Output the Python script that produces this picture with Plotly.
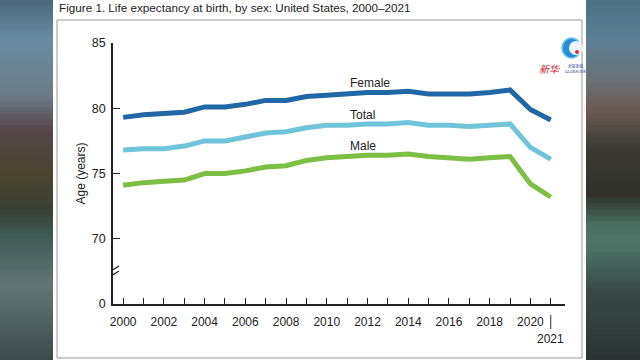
import plotly.graph_objects as go

years = list(range(2000, 2022))
female = [79.3, 79.5, 79.6, 79.7, 80.1, 80.1, 80.3, 80.6, 80.6, 80.9, 81.0,
          81.1, 81.2, 81.2, 81.3, 81.1, 81.1, 81.1, 81.2, 81.4, 79.9, 79.1]
total = [76.8, 76.9, 76.9, 77.1, 77.5, 77.5, 77.8, 78.1, 78.2, 78.5, 78.7,
         78.7, 78.8, 78.8, 78.9, 78.7, 78.7, 78.6, 78.7, 78.8, 77.0, 76.1]
male = [74.1, 74.3, 74.4, 74.5, 75.0, 75.0, 75.2, 75.5, 75.6, 76.0, 76.2,
        76.3, 76.4, 76.4, 76.5, 76.3, 76.2, 76.1, 76.2, 76.3, 74.2, 73.2]
series_names = ["Female", "Total", "Male"]
series_colors = ["#2067a6", "#6fc4da", "#7cbf44"]
y_tickvals = [65, 70, 75, 80, 85]
y_ticktext = ["0", "70", "75", "80", "85"]
x_ticktext = [str(y) if y % 2 == 0 else "" for y in years]

W, H = 640, 360
ML, MR, MT, MB = 113, 75, 43, 56
PW, PH = W - ML - MR, H - MT - MB
X0, X1 = 1999.5, 2021.7
Y0, Y1 = 65, 85

def px(xp):
    return (xp - ML) / PW

def py(yp):
    return (H - MB - yp) / PH

def xd(xp):
    return X0 + (xp - ML) / PW * (X1 - X0)

def yd(yp):
    return Y0 + (H - MB - yp) / PH * (Y1 - Y0)

fig = go.Figure()
for name, vals, col in zip(series_names, [female, total, male], series_colors):
    fig.add_trace(go.Scatter(x=years, y=vals, mode="lines", name=name,
                             line=dict(color=col, width=5), showlegend=False))

shapes = []

def hexrgb(h):
    h = h.lstrip("#")
    return [int(h[i:i + 2], 16) for i in (0, 2, 4)]

def grad(stops, y):
    for i in range(len(stops) - 1):
        y0, c0 = stops[i]
        y1, c1 = stops[i + 1]
        if y0 <= y <= y1:
            t = (y - y0) / (y1 - y0) if y1 > y0 else 0
            a, b = hexrgb(c0), hexrgb(c1)
            return "rgb(%d,%d,%d)" % tuple(round(a[k] + (b[k] - a[k]) * t) for k in range(3))
    return stops[-1][1]

left_stops = [(0, "#4c667a"), (40, "#6a8aa0"), (95, "#6d7c88"), (130, "#56474b"),
              (175, "#4b4530"), (210, "#3b3f33"), (235, "#3f5a55"), (285, "#627474"),
              (330, "#4d5d5e"), (360, "#3c4a4c")]
right_stops = [(0, "#4f6f82"), (40, "#5c7f93"), (80, "#6a7278"), (110, "#6b5a55"),
               (150, "#3a3a33"), (195, "#30322b"), (225, "#4a6e62"), (245, "#507568"),
               (290, "#3a4a48"), (360, "#2a3332")]
step = 6
for yy in range(0, H, step):
    for (xa, xb, stops) in [(0, 53, left_stops), (586, 640, right_stops)]:
        c = grad(stops, yy + step / 2)
        shapes.append(dict(type="rect", xref="paper", yref="paper",
                           x0=px(xa), x1=px(xb), y0=py(yy + step + 0.5), y1=py(yy - 0.5),
                           fillcolor=c, line=dict(width=0), layer="below"))
# inner border
shapes.append(dict(type="rect", xref="paper", yref="paper",
                   x0=px(57), x1=px(582), y0=py(358), y1=py(20),
                   fillcolor="rgba(0,0,0,0)", line=dict(color="#9a9a9a", width=1), layer="below"))
# axis break slashes
for off in (0, 5):
    shapes.append(dict(type="line", xref="x", yref="y",
                       x0=xd(106), y0=yd(274 + off), x1=xd(119), y1=yd(266 + off),
                       line=dict(color="#222", width=1.2)))
# 2021 separator
shapes.append(dict(type="line", xref="x", yref="paper",
                   x0=2021, x1=2021, y0=py(315), y1=py(329),
                   line=dict(color="#333", width=1)))
# logo: C-shaped globe
shapes.append(dict(type="circle", xref="paper", yref="paper",
                   x0=px(562), x1=px(581), y0=py(58), y1=py(38),
                   fillcolor="#2a8fd0", line=dict(color="#6fc0ee", width=1.5)))
shapes.append(dict(type="circle", xref="paper", yref="paper",
                   x0=px(569), x1=px(583), y0=py(55), y1=py(41),
                   fillcolor="#eef7fc", line=dict(width=0)))
shapes.append(dict(type="circle", xref="paper", yref="paper",
                   x0=px(575), x1=px(579), y0=py(54), y1=py(50),
                   fillcolor="#d8333a", line=dict(width=0)))

annotations = [
    dict(text="Figure 1. Life expectancy at birth, by sex: United States, 2000\u20132021",
         xref="paper", yref="paper", x=px(57), y=py(8), xanchor="left", yanchor="middle",
         showarrow=False, font=dict(size=11.7, color="#222")),
    dict(text="2021", xref="x", yref="paper", x=2021, y=py(339), xanchor="center",
         yanchor="middle", showarrow=False, font=dict(size=12, color="#222")),
    dict(text="<i>新华</i>", xref="paper", yref="paper", x=px(562), y=py(68), xanchor="right",
         yanchor="middle", showarrow=False,
         font=dict(size=10, color="#c8242b", family="Noto Sans CJK SC")),
    dict(text="全球连线<br>GLOBALink", xref="paper", yref="paper", x=px(563), y=py(68),
         xanchor="left", yanchor="middle", showarrow=False,
         font=dict(size=4, color="#2a3c9c", family="Noto Sans CJK SC")),
]
label_y = [yd(83), yd(115), yd(146)]
for name, ly in zip(series_names, label_y):
    annotations.append(dict(text=name, xref="x", yref="y", x=xd(348), y=ly,
                            xanchor="left", yanchor="middle", showarrow=False,
                            font=dict(size=12, color="#222")))

fig.update_layout(
    width=W, height=H,
    margin=dict(l=ML, r=MR, t=MT, b=MB, pad=0),
    paper_bgcolor="white", plot_bgcolor="rgba(0,0,0,0)",
    font=dict(family="Liberation Sans, Arial, sans-serif", color="#222", size=12),
    shapes=shapes, annotations=annotations,
    xaxis=dict(range=[X0, X1], tickvals=years, ticktext=x_ticktext, ticks="inside",
               ticklen=6, tickwidth=1.2, tickcolor="#222", showgrid=False, zeroline=False,
               showline=True, linecolor="#222", linewidth=1.5, tickangle=0,
               ticklabelstandoff=6, tickfont=dict(size=12, color="#222")),
    yaxis=dict(range=[Y0, Y1], tickvals=y_tickvals, ticktext=y_ticktext, ticks="inside",
               ticklen=7, tickwidth=1.2, tickcolor="#222", showgrid=False, zeroline=False,
               showline=True, linecolor="#222", linewidth=1.5,
               ticklabelstandoff=3, tickfont=dict(size=12.5, color="#222"),
               title=dict(text="Age (years)", standoff=4, font=dict(size=12, color="#222"))),
)
fig.write_html("out.html", config={"displayModeBar": False},
               post_script="document.body.style.margin='0';document.body.style.padding='0';")
